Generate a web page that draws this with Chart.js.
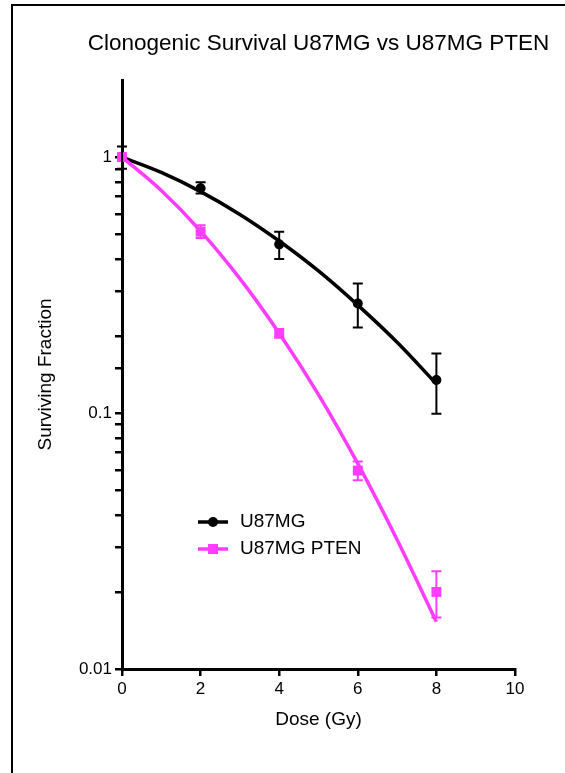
<!doctype html>
<html>
<head>
<meta charset="utf-8" />
<title>Clonogenic Survival</title>
<style>
  html, body { margin: 0; padding: 0; background: #fff; }
  canvas { display: block; }
</style>
<script src="https://cdn.jsdelivr.net/npm/chart.js@4/dist/chart.umd.min.js"></script>
</head>
<body>
<canvas id="canvas" width="565" height="773"></canvas>
<script>
// measured points (dose in Gy, surviving fraction)
var doses = [0, 2, 4, 6, 8];
var u87 = [1.0, 0.755, 0.456, 0.268, 0.1345];
var u87Hi = [1.10, 0.797, 0.511, 0.321, 0.171];
var u87Lo = [0.90, 0.720, 0.400, 0.216, 0.0993];
var pten = [1.0, 0.511, 0.205, 0.0596, 0.020];
var ptenHi = [1.0, 0.542, 0.213, 0.0646, 0.0241];
var ptenLo = [1.0, 0.483, 0.197, 0.0546, 0.0159];

// fitted curves
var fitDoses = [0, 1, 2, 3, 4, 5, 6, 7, 8];
var u87Fit = [1.0, 0.871, 0.733, 0.597, 0.47, 0.359, 0.264, 0.189, 0.130];
var ptenFit = [1.0, 0.74, 0.514, 0.335, 0.205, 0.118, 0.0634, 0.032, 0.0153];

var xTicks = [0, 2, 4, 6, 8, 10];
var yTickValues = [0.01, 0.1, 1];
var yTickLabels = ['0.01', '0.1', '1'];

var TITLE = 'Clonogenic Survival U87MG vs U87MG PTEN';
var BLACK = '#000000';
var PINK = '#ff3cff';
var FONT = '"Liberation Sans", Arial, sans-serif';

function pts(xs, ys) {
	return xs.map(function (x, i) { return { x: x, y: ys[i] }; });
}

var errorBars = {
	id: 'errorBars',
	afterDatasetsDraw: function (chart) {
		var ctx = chart.ctx;
		var xs = chart.scales.x, ys = chart.scales.y;
		var sets = [[u87Hi, u87Lo, BLACK], [ptenHi, ptenLo, PINK]];
		ctx.save();
		sets.forEach(function (s) {
			ctx.strokeStyle = s[2];
			ctx.lineWidth = 2;
			doses.forEach(function (d, i) {
				var px = xs.getPixelForValue(d);
				var top = ys.getPixelForValue(s[0][i]);
				var bot = ys.getPixelForValue(s[1][i]);
				if (Math.abs(bot - top) < 1) return;
				ctx.beginPath();
				ctx.moveTo(px, top); ctx.lineTo(px, bot);
				ctx.moveTo(px - 5, top); ctx.lineTo(px + 5, top);
				ctx.moveTo(px - 5, bot); ctx.lineTo(px + 5, bot);
				ctx.stroke();
			});
		});
		ctx.restore();
	}
};

var decor = {
	id: 'decor',
	beforeDraw: function (chart) {
		var ctx = chart.ctx;
		var a = chart.chartArea;
		ctx.save();
		ctx.fillStyle = '#fff';
		ctx.fillRect(0, 0, chart.width, chart.height);
		ctx.strokeStyle = '#000';
		ctx.lineWidth = 2;
		ctx.beginPath();
		ctx.moveTo(12, chart.height);
		ctx.lineTo(12, 5);
		ctx.lineTo(chart.width, 5);
		ctx.stroke();
		// title, centred over the plot
		ctx.fillStyle = '#000';
		ctx.font = '22.5px ' + FONT;
		ctx.textAlign = 'center';
		ctx.textBaseline = 'alphabetic';
		ctx.fillText(TITLE, (a.left + a.right) / 2, a.top - 30);
		ctx.restore();
	},
	afterDraw: function (chart) {
		// legend inside the plot
		var ctx = chart.ctx;
		var a = chart.chartArea;
		var items = [
			{ label: chart.data.datasets[3].label, color: BLACK, style: 'circle' },
			{ label: chart.data.datasets[2].label, color: PINK, style: 'rect' }
		];
		ctx.save();
		ctx.font = '19px ' + FONT;
		ctx.textBaseline = 'middle';
		items.forEach(function (it, i) {
			var y = a.top + 442 + i * 27;
			var x0 = a.left + 76;
			ctx.strokeStyle = it.color;
			ctx.fillStyle = it.color;
			ctx.lineWidth = 3.5;
			ctx.beginPath();
			ctx.moveTo(x0, y); ctx.lineTo(x0 + 30, y);
			ctx.stroke();
			if (it.style === 'circle') {
				ctx.beginPath();
				ctx.arc(x0 + 15, y, 5, 0, Math.PI * 2);
				ctx.fill();
			} else {
				ctx.fillRect(x0 + 10, y - 5, 10, 10);
			}
			ctx.fillStyle = '#000';
			ctx.fillText(it.label, x0 + 42, y);
		});
		ctx.restore();
	}
};

var chart = new Chart(document.getElementById('canvas').getContext('2d'), {
	type: 'line',
	data: {
		datasets: [
			{ label: 'U87MG PTEN', data: pts(doses, pten), showLine: false, clip: false,
				pointStyle: 'rect', pointRadius: 7, backgroundColor: PINK, borderColor: PINK, borderWidth: 0 },
			{ label: 'U87MG', data: pts(doses, u87), showLine: false, clip: false,
				pointStyle: 'circle', pointRadius: 5, backgroundColor: BLACK, borderColor: BLACK, borderWidth: 0 },
			{ label: 'U87MG PTEN', data: pts(fitDoses, ptenFit), borderColor: PINK, borderWidth: 3.5,
				pointRadius: 0, cubicInterpolationMode: 'monotone', fill: false, clip: false },
			{ label: 'U87MG', data: pts(fitDoses, u87Fit), borderColor: BLACK, borderWidth: 3.5,
				pointRadius: 0, cubicInterpolationMode: 'monotone', fill: false, clip: false }
		]
	},
	options: {
		responsive: false,
		animation: false,
		devicePixelRatio: 1,
		layout: { padding: { left: 0, top: 80, right: 50, bottom: 0 } },
		plugins: {
			legend: { display: false },
			tooltip: { enabled: false },
			title: { display: false }
		},
		scales: {
			x: {
				type: 'linear',
				min: 0,
				max: 10,
				afterBuildTicks: function (s) { s.ticks = xTicks.map(function (v) { return { value: v }; }); },
				afterFit: function (s) { s.height = 104; },
				border: { display: true, color: '#000', width: 3 },
				grid: { drawOnChartArea: false, drawTicks: true, tickLength: 7, color: '#000', lineWidth: 2.5 },
				ticks: { color: '#000', padding: 3, font: { family: FONT, size: 17 } },
				title: {
					display: true, text: 'Dose (Gy)', color: '#000',
					font: { family: FONT, size: 19 },
					padding: { top: 0, bottom: 42 }
				}
			},
			y: {
				type: 'logarithmic',
				min: 0.01,
				max: 2,
				afterFit: function (s) { s.width = 122; },
				border: { display: true, color: '#000', width: 3 },
				grid: {
					drawOnChartArea: false, drawTicks: true, tickLength: 7, lineWidth: 2.5,
					color: function (c) { return (c.tick && c.tick.value > 1.001) ? 'rgba(0,0,0,0)' : '#000'; }
				},
				ticks: {
					color: '#000', padding: 3, autoSkip: false,
					font: { family: FONT, size: 17 },
					callback: function (v) {
						for (var i = 0; i < yTickValues.length; i++) {
							if (Math.abs(v - yTickValues[i]) < yTickValues[i] * 1e-6) return yTickLabels[i];
						}
						return '';
					}
				},
				title: {
					display: true, text: 'Surviving Fraction', color: '#000',
					font: { family: FONT, size: 19 },
					padding: { top: 34.5, bottom: 0 }
				}
			}
		}
	},
	plugins: [decor, errorBars]
});
</script>
</body>
</html>
